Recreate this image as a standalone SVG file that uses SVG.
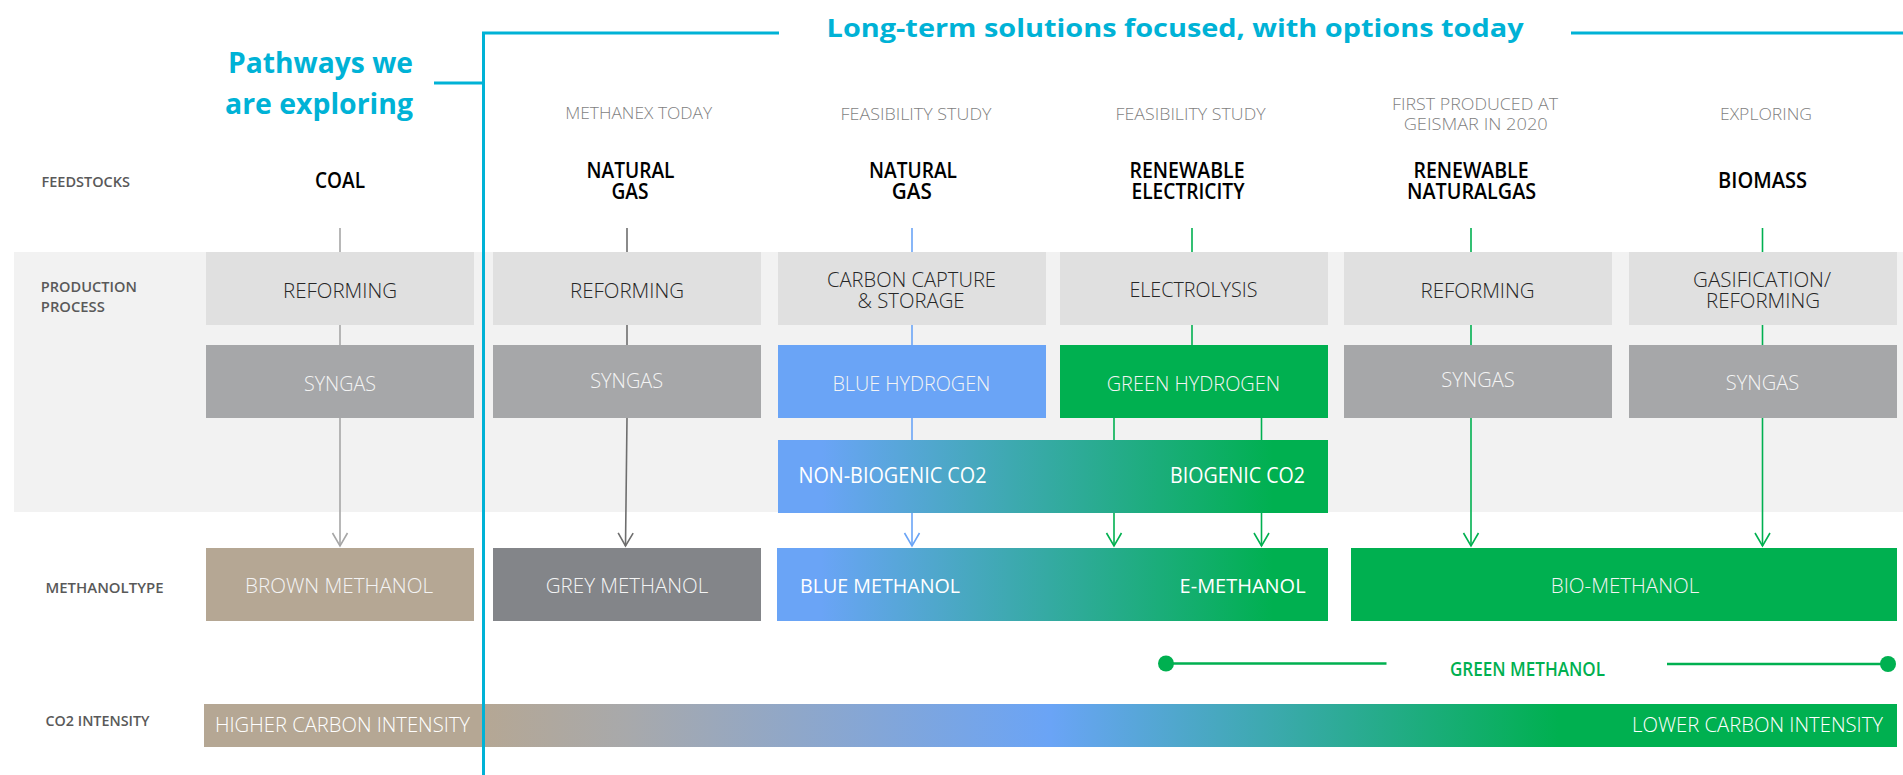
<svg xmlns="http://www.w3.org/2000/svg" width="1903" height="775" viewBox="0 0 1903 775">
  <defs>
    <!-- blue-to-green fill for the CO2 source and blue/e-methanol boxes -->
    <linearGradient id="gradBlueGreen" x1="0" y1="0" x2="1" y2="0">
      <stop offset="0" stop-color="#6aa4f6"/>
      <stop offset="0.08" stop-color="#6aa4f6"/>
      <stop offset="0.9" stop-color="#00b050"/>
      <stop offset="1" stop-color="#00b050"/>
    </linearGradient>
    <!-- carbon intensity scale: brown -> grey -> blue -> green -->
    <linearGradient id="gradIntensity" x1="0" y1="0" x2="1" y2="0">
      <stop offset="0" stop-color="#b5a794"/>
      <stop offset="0.165" stop-color="#b5a794"/>
      <stop offset="0.25" stop-color="#a8a9ab"/>
      <stop offset="0.5" stop-color="#6aa4f6"/>
      <stop offset="0.8" stop-color="#00b050"/>
      <stop offset="1" stop-color="#00b050"/>
    </linearGradient>
    <marker id="arrLight" markerUnits="userSpaceOnUse" viewBox="-15 -9 17 18" markerWidth="17" markerHeight="18" refX="0" refY="0" orient="auto">
      <path d="M-13,-7.5 L0,0 L-13,7.5" fill="none" stroke="#a6a6a6" stroke-width="1.6"/>
    </marker>
    <marker id="arrDark" markerUnits="userSpaceOnUse" viewBox="-15 -9 17 18" markerWidth="17" markerHeight="18" refX="0" refY="0" orient="auto">
      <path d="M-13,-7.5 L0,0 L-13,7.5" fill="none" stroke="#6e6e6e" stroke-width="1.6"/>
    </marker>
    <marker id="arrBlue" markerUnits="userSpaceOnUse" viewBox="-15 -9 17 18" markerWidth="17" markerHeight="18" refX="0" refY="0" orient="auto">
      <path d="M-13,-7.5 L0,0 L-13,7.5" fill="none" stroke="#6aa4f6" stroke-width="1.6"/>
    </marker>
    <marker id="arrGreen" markerUnits="userSpaceOnUse" viewBox="-15 -9 17 18" markerWidth="17" markerHeight="18" refX="0" refY="0" orient="auto">
      <path d="M-13,-7.5 L0,0 L-13,7.5" fill="none" stroke="#00b050" stroke-width="1.6"/>
    </marker>
  </defs>
  <style>
    text { font-family: "Open Sans", "Liberation Sans", sans-serif; }
    .hdr { fill: #00b2d6; font-weight: 700; }
    .sub { fill: #7f7f7f; font-size: 15.5px; font-weight: 300; text-anchor: middle; }
    .feed { fill: #000000; font-size: 21px; font-weight: 600; text-anchor: middle; }
    .row { fill: #595959; font-size: 15px; font-weight: 600; }
    .proc { fill: #262626; font-size: 21px; font-weight: 300; text-anchor: middle; }
    .inv { fill: #f4f4f4; font-size: 21px; font-weight: 300; text-anchor: middle; }
    .invB { fill: #ffffff; font-size: 21px; font-weight: 400; }
    .meth { fill: #f4f4f4; font-size: 20px; font-weight: 300; text-anchor: middle; }
    .methB { fill: #ffffff; font-size: 20px; font-weight: 400; }
    .scale { fill: #ffffff; font-size: 20px; font-weight: 300; }
    .pbox { fill: #e0e0e0; }
    .sbox { fill: #a6a7a9; }
    .conn { fill: none; stroke-width: 1.6; }
    .bracket { fill: none; stroke: #00b2d6; stroke-width: 3; }
    .green { fill: #00b050; }
  </style>

  <!-- background band of the production process rows -->
  <rect id="band" x="14" y="252" width="1889" height="260" fill="#f2f2f2"/>

  <!-- connectors -->
  <g id="connectors">
    <path class="conn" stroke="#a6a6a6" d="M340,228 V546" marker-end="url(#arrLight)"/>
    <path class="conn" stroke="#6e6e6e" d="M627,228 V418 L625.5,546" marker-end="url(#arrDark)"/>
    <path class="conn" stroke="#6aa4f6" d="M912,228 V546" marker-end="url(#arrBlue)"/>
    <path class="conn" stroke="#00b050" d="M1192,228 V345"/>
    <path class="conn" stroke="#00b050" d="M1114,418 V546" marker-end="url(#arrGreen)"/>
    <path class="conn" stroke="#00b050" d="M1261.5,418 V546" marker-end="url(#arrGreen)"/>
    <path class="conn" stroke="#00b050" d="M1471,228 V546" marker-end="url(#arrGreen)"/>
    <path class="conn" stroke="#00b050" d="M1762.5,228 V546" marker-end="url(#arrGreen)"/>
  </g>

  <!-- headings -->
  <g id="heading-longterm">
    <text class="hdr" x="826.6" y="37.3" font-size="25" textLength="697" lengthAdjust="spacingAndGlyphs">Long-term solutions focused, with options today</text>
  </g>
  <g id="heading-pathways">
    <text class="hdr" x="413" y="73.3" font-size="28" text-anchor="end" textLength="185" lengthAdjust="spacingAndGlyphs">Pathways we</text>
    <text class="hdr" x="413" y="114" font-size="28" text-anchor="end" textLength="188" lengthAdjust="spacingAndGlyphs">are exploring</text>
  </g>

  <!-- row labels -->
  <g id="row-labels">
    <text class="row" x="41.5" y="186.7" textLength="88.5" lengthAdjust="spacingAndGlyphs">FEEDSTOCKS</text>
    <text class="row" x="40.8" y="291.7" font-size="16.5" textLength="96" lengthAdjust="spacingAndGlyphs">PRODUCTION</text>
    <text class="row" x="40.8" y="312.3" font-size="16.5" textLength="64" lengthAdjust="spacingAndGlyphs">PROCESS</text>
    <text class="row" x="45.5" y="592.7" textLength="118" lengthAdjust="spacingAndGlyphs">METHANOLTYPE</text>
    <text class="row" x="45.5" y="726" textLength="104" lengthAdjust="spacingAndGlyphs">CO2 INTENSITY</text>
  </g>

  <!-- status labels -->
  <g id="status-labels">
    <text class="sub" x="638.7" y="119.3" textLength="147" lengthAdjust="spacingAndGlyphs">METHANEX TODAY</text>
    <text class="sub" x="916" y="120" textLength="151" lengthAdjust="spacingAndGlyphs">FEASIBILITY STUDY</text>
    <text class="sub" x="1190.6" y="120" textLength="150" lengthAdjust="spacingAndGlyphs">FEASIBILITY STUDY</text>
    <text class="sub" x="1475" y="110" textLength="166" lengthAdjust="spacingAndGlyphs">FIRST PRODUCED AT</text>
    <text class="sub" x="1475.7" y="130" textLength="144" lengthAdjust="spacingAndGlyphs">GEISMAR IN 2020</text>
    <text class="sub" x="1766" y="120" textLength="92" lengthAdjust="spacingAndGlyphs">EXPLORING</text>
  </g>

  <!-- feedstocks -->
  <g id="feed-coal"><text class="feed" x="340" y="188.3" textLength="50" lengthAdjust="spacingAndGlyphs">COAL</text></g>
  <g id="feed-natgas-1">
    <text class="feed" x="630.5" y="177.7" textLength="88" lengthAdjust="spacingAndGlyphs">NATURAL</text>
    <text class="feed" x="630" y="199.3" textLength="37" lengthAdjust="spacingAndGlyphs">GAS</text>
  </g>
  <g id="feed-natgas-2">
    <text class="feed" x="913" y="177.7" textLength="88" lengthAdjust="spacingAndGlyphs">NATURAL</text>
    <text class="feed" x="911.8" y="199.3" textLength="40" lengthAdjust="spacingAndGlyphs">GAS</text>
  </g>
  <g id="feed-electricity">
    <text class="feed" x="1187" y="177.7" textLength="115" lengthAdjust="spacingAndGlyphs">RENEWABLE</text>
    <text class="feed" x="1188" y="199.3" textLength="113" lengthAdjust="spacingAndGlyphs">ELECTRICITY</text>
  </g>
  <g id="feed-rng">
    <text class="feed" x="1471" y="177.7" textLength="115" lengthAdjust="spacingAndGlyphs">RENEWABLE</text>
    <text class="feed" x="1471.6" y="199.3" textLength="129" lengthAdjust="spacingAndGlyphs">NATURALGAS</text>
  </g>
  <g id="feed-biomass"><text class="feed" x="1762.6" y="188.3" textLength="89" lengthAdjust="spacingAndGlyphs">BIOMASS</text></g>

  <!-- production process: first step -->
  <g id="proc-reforming-1">
    <rect class="pbox" x="206" y="252" width="268" height="73"/>
    <text class="proc" x="340" y="297.7" textLength="114" lengthAdjust="spacingAndGlyphs">REFORMING</text>
  </g>
  <g id="proc-reforming-2">
    <rect class="pbox" x="493" y="252" width="268" height="73"/>
    <text class="proc" x="627" y="297.7" textLength="114" lengthAdjust="spacingAndGlyphs">REFORMING</text>
  </g>
  <g id="proc-ccs">
    <rect class="pbox" x="778" y="252" width="268" height="73"/>
    <text class="proc" x="911.5" y="286.7" textLength="169" lengthAdjust="spacingAndGlyphs">CARBON CAPTURE</text>
    <text class="proc" x="911" y="308.3" textLength="107" lengthAdjust="spacingAndGlyphs">&amp; STORAGE</text>
  </g>
  <g id="proc-electrolysis">
    <rect class="pbox" x="1060" y="252" width="268" height="73"/>
    <text class="proc" x="1193.4" y="297.3" textLength="128" lengthAdjust="spacingAndGlyphs">ELECTROLYSIS</text>
  </g>
  <g id="proc-reforming-3">
    <rect class="pbox" x="1344" y="252" width="268" height="73"/>
    <text class="proc" x="1477.6" y="297.7" textLength="114" lengthAdjust="spacingAndGlyphs">REFORMING</text>
  </g>
  <g id="proc-gasification">
    <rect class="pbox" x="1629" y="252" width="268" height="73"/>
    <text class="proc" x="1762" y="286.7" textLength="138" lengthAdjust="spacingAndGlyphs">GASIFICATION/</text>
    <text class="proc" x="1763" y="308.3" textLength="114" lengthAdjust="spacingAndGlyphs">REFORMING</text>
  </g>

  <!-- production process: intermediates -->
  <g id="syngas-1">
    <rect class="sbox" x="206" y="345" width="268" height="73"/>
    <text class="inv" x="340" y="390.7" textLength="72" lengthAdjust="spacingAndGlyphs">SYNGAS</text>
  </g>
  <g id="syngas-2">
    <rect class="sbox" x="493" y="345" width="268" height="73"/>
    <text class="inv" x="626.7" y="388.3" textLength="73" lengthAdjust="spacingAndGlyphs">SYNGAS</text>
  </g>
  <g id="blue-hydrogen">
    <rect x="778" y="345" width="268" height="73" fill="#6aa4f6"/>
    <text class="inv" x="911.4" y="390.7" textLength="158" lengthAdjust="spacingAndGlyphs">BLUE HYDROGEN</text>
  </g>
  <g id="green-hydrogen">
    <rect class="green" x="1060" y="345" width="268" height="73"/>
    <text class="inv" x="1193.4" y="390.7" textLength="173.5" lengthAdjust="spacingAndGlyphs">GREEN HYDROGEN</text>
  </g>
  <g id="syngas-3">
    <rect class="sbox" x="1344" y="345" width="268" height="73"/>
    <text class="inv" x="1478" y="387.3" textLength="73.5" lengthAdjust="spacingAndGlyphs">SYNGAS</text>
  </g>
  <g id="syngas-4">
    <rect class="sbox" x="1629" y="345" width="268" height="73"/>
    <text class="inv" x="1762.5" y="390" textLength="73.5" lengthAdjust="spacingAndGlyphs">SYNGAS</text>
  </g>

  <!-- CO2 source -->
  <g id="co2-source">
    <rect x="778" y="440" width="550" height="73" fill="url(#gradBlueGreen)"/>
    <text class="invB" x="798.5" y="483.3" textLength="188" lengthAdjust="spacingAndGlyphs">NON-BIOGENIC CO2</text>
    <text class="invB" x="1305" y="483.3" text-anchor="end" textLength="135" lengthAdjust="spacingAndGlyphs">BIOGENIC CO2</text>
  </g>

  <!-- methanol types -->
  <g id="brown-methanol">
    <rect x="206" y="548" width="268" height="73" fill="#b5a794"/>
    <text class="meth" x="339" y="593.3" textLength="188" lengthAdjust="spacingAndGlyphs">BROWN METHANOL</text>
  </g>
  <g id="grey-methanol">
    <rect x="493" y="548" width="268" height="73" fill="#838589"/>
    <text class="meth" x="627" y="593.3" textLength="162.5" lengthAdjust="spacingAndGlyphs">GREY METHANOL</text>
  </g>
  <g id="blue-e-methanol">
    <rect x="777" y="548" width="551" height="73" fill="url(#gradBlueGreen)"/>
    <text class="methB" x="800" y="593.3" textLength="160" lengthAdjust="spacingAndGlyphs">BLUE METHANOL</text>
    <text class="methB" x="1305.6" y="593.3" text-anchor="end" textLength="126" lengthAdjust="spacingAndGlyphs">E-METHANOL</text>
  </g>
  <g id="bio-methanol">
    <rect class="green" x="1351" y="548" width="546" height="73"/>
    <text class="meth" x="1625" y="593.3" textLength="148.5" lengthAdjust="spacingAndGlyphs">BIO-METHANOL</text>
  </g>

  <!-- green methanol span -->
  <g id="green-methanol">
    <path d="M1166,663.5 H1386.5 M1667,664 H1888" fill="none" stroke="#00b050" stroke-width="2.5"/>
    <circle class="green" cx="1166" cy="663.5" r="8"/>
    <circle class="green" cx="1888" cy="664" r="8"/>
    <text x="1527.5" y="675.7" font-size="20" font-weight="600" fill="#00b050" text-anchor="middle" textLength="155" lengthAdjust="spacingAndGlyphs">GREEN METHANOL</text>
  </g>

  <!-- carbon intensity scale -->
  <g id="intensity-scale">
    <rect x="204" y="704" width="1693" height="43" fill="url(#gradIntensity)"/>
    <text class="scale" x="215" y="732" textLength="255" lengthAdjust="spacingAndGlyphs">HIGHER CARBON INTENSITY</text>
    <text class="scale" x="1883" y="732" text-anchor="end" textLength="251" lengthAdjust="spacingAndGlyphs">LOWER CARBON INTENSITY</text>
  </g>

  <!-- bracket separating explored pathways from long-term solutions -->
  <g id="bracket">
    <path class="bracket" d="M483.5,775 V33 H779"/>
    <path class="bracket" d="M1571,33 H1903"/>
    <path class="bracket" d="M434,83 H483.5"/>
  </g>
</svg>
